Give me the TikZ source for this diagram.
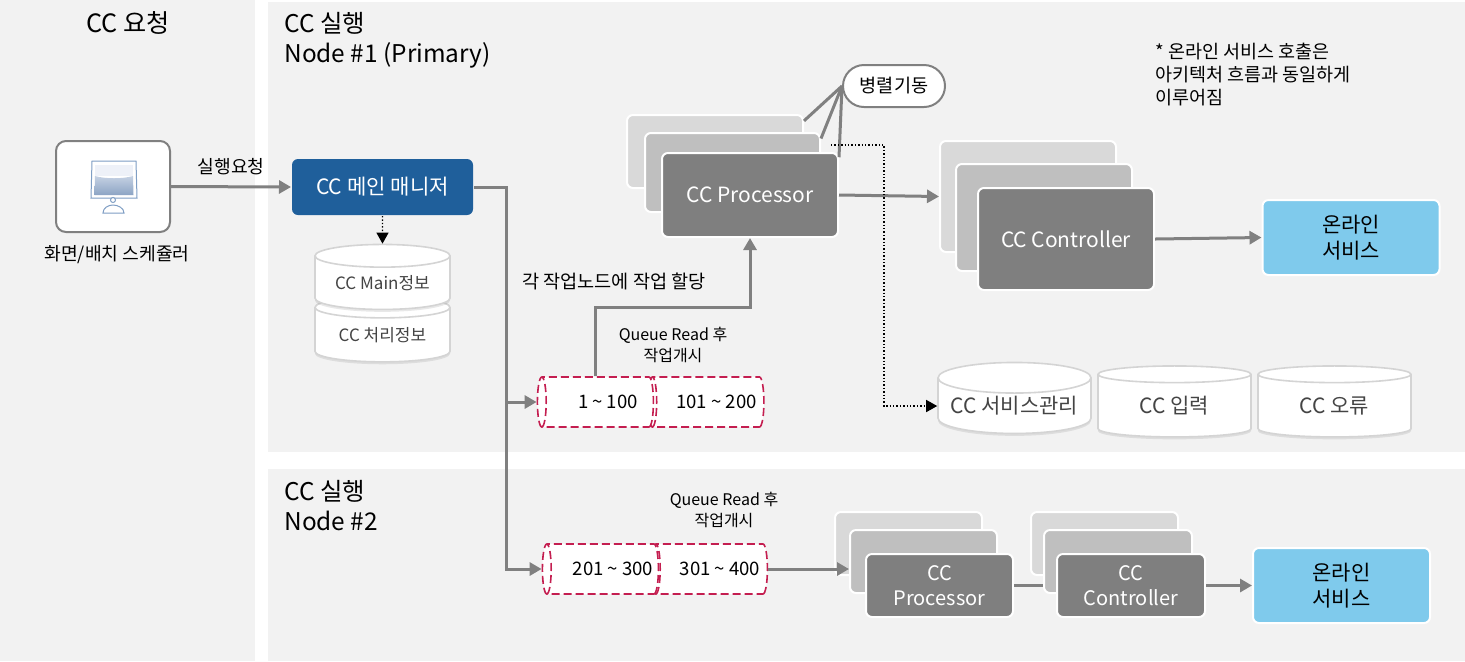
\documentclass[tikz,border=0pt]{standalone}
\usepackage{fontspec}
\setmainfont{Noto Sans CJK KR}
\usetikzlibrary{positioning,arrows.meta,shapes.geometric,shadows}

\definecolor{panelgray}{HTML}{F2F2F2}
\definecolor{connline}{HTML}{808080}
\definecolor{cardlight}{HTML}{D9D9D9}
\definecolor{cardmiddle}{HTML}{BFBFBF}
\definecolor{carddark}{HTML}{7F7F7F}
\definecolor{mainblue}{HTML}{1F5F9B}
\definecolor{skyblue}{HTML}{7FCAEC}
\definecolor{queuered}{HTML}{C41E50}
\definecolor{dbtext}{HTML}{444444}
\definecolor{monitorline}{HTML}{7F9EC4}
\definecolor{monitorpale}{HTML}{EEF1F8}
\definecolor{monitordeep}{HTML}{8CA4C4}
\definecolor{monitormid}{HTML}{C5D1E3}

\newcommand{\fsz}[2]{\fontsize{#1}{#2}\selectfont}

\tikzset{
	panel/.style={fill=panelgray, draw=none},
	card/.style={rectangle, rounded corners=3pt, draw=white, line width=1pt, inner sep=0pt, align=center},
	cardback/.style={card, fill=cardlight},
	cardmid/.style={card, fill=cardmiddle},
	cardfront/.style={card, fill=carddark, text=white},
	service/.style={card, fill=skyblue, minimum width=88.5pt, minimum height=37.5pt, font=\fsz{10.5}{13}},
	dbcyl/.style={cylinder, shape border rotate=90, aspect=.24, draw=black!17, line width=.8pt, fill=white,
		inner sep=0pt, minimum width=76.5pt, minimum height=35.5pt, text=dbtext, font=\fsz{10.5}{12},
		drop shadow={opacity=.18, shadow xshift=0pt, shadow yshift=-1.2pt}},
	smallcyl/.style={dbcyl, aspect=.24, minimum width=67.5pt, minimum height=32.5pt, font=\fsz{8.5}{10}},
	queuecyl/.style={cylinder, shape border rotate=180, aspect=.64, draw=queuered, line width=.8pt,
		dash pattern=on 4pt off 2pt, fill=white, inner sep=0pt, minimum width=25pt, minimum height=58pt,
		font=\fsz{9.3}{10}},
	conn/.style={draw=connline, line width=1.5pt, -{Triangle[length=6pt,width=6.5pt,fill=connline]}},
	connplain/.style={draw=connline, line width=1.5pt},
	dotconn/.style={draw=black, line width=.7pt, densely dotted, -{Triangle[length=5.5pt,width=6pt,fill=black]}},
	label/.style={inner sep=0pt, font=\fsz{9.1}{11}, align=center},
	title/.style={inner sep=0pt, anchor=west, align=left, font=\fsz{12.2}{15}}
}

\begin{document}
\begin{tikzpicture}[x=.5pt, y=-.5pt]
	\useasboundingbox (0,0) rectangle (1465,661);

	% panels
	\fill[panel] (0,0) rectangle (255,661);
	\fill[panel] (268,2) rectangle (1465,452);
	\fill[panel] (268,469) rectangle (1465,661);

	\node [title, anchor=center, font=\fsz{12.6}{15}] (tReq) at (128,23) {CC 요청};
	\node [title, anchor=north west] (tNode1) at (284,12) {CC 실행\\Node \#1 (Primary)};
	\node [title, anchor=north west] (tNode2) at (284,479.5) {CC 실행\\Node \#2};

	\node [label, anchor=north west, align=left, font=\fsz{9.25}{11.5}] (note) at (1155,43)
		{* 온라인 서비스 호출은\\아키텍처 흐름과 동일하게\\이루어짐};

	% scheduler
	\node [draw=connline, line width=1pt, fill=white, rounded corners=5pt, minimum width=57pt, minimum height=45.5pt,
		inner sep=0pt] (sched) at (113,186.5) {};
	\draw[draw=monitorline, line width=.5pt, fill=white] (92,161) -- (136,161) -- (137,198) -- (91,198) -- cycle;
	\fill[monitorpale] (95,165) -- (133,165) -- (133,176) -- (95,176) -- cycle;
	\shade[top color=monitormid, bottom color=monitordeep] (95,176) .. controls (105,179) and (123,179) .. (133,176) -- (133.5,195) -- (94.5,195) -- cycle;
	\draw[draw=monitorline, line width=.5pt, fill=white] (113,200) circle (2.5);
	\draw[draw=monitorline, line width=.5pt, fill=white] (103,213) .. controls (103,208) and (108,205) .. (113,205) .. controls (118,205) and (124,208) .. (124,213) -- cycle;
	\node [label, below=6pt of sched, xshift=2pt] (schedLabel) {화면/배치 스케쥴러};

	% main manager
	\node [card, draw=none, fill=mainblue, text=white, rounded corners=3pt, minimum width=90.5pt, minimum height=28pt, font=\fsz{10.55}{12}]
		(mainMgr) at (382.5,187) {CC 메인 매니저};

	% cylinders below manager
	\node [smallcyl] (dbExec) at (382.5,335) {CC 처리정보};
	\node [smallcyl] (dbMain) at (382.5,283) {CC Main정보};

	% CC Processor stack
	\node [cardback, minimum width=88pt, minimum height=36.5pt] (procBack) at (715,151.5) {};
	\node [cardmid, minimum width=87.5pt, minimum height=39.5pt] (procMid) at (732.5,172.5) {};
	\node [cardfront, minimum width=88pt, minimum height=42pt, font=\fsz{10.5}{13}] (procFront) at (750,195) {CC Processor};

	% CC Controller stack
	\node [cardback, minimum width=88pt, minimum height=55.5pt] (ctrlBack) at (1028,196.5) {};
	\node [cardmid, minimum width=88pt, minimum height=53.5pt] (ctrlMid) at (1044,217.5) {};
	\node [cardfront, minimum width=88pt, minimum height=51pt, font=\fsz{10.5}{13}] (ctrlFront) at (1066,239) {CC Controller};

	\node [service] (svc1) at (1351,237.5) {온라인\\서비스};

	% parallel start
	\node [draw=connline, line width=1pt, fill=white, rounded corners=10.5pt, minimum width=51pt, minimum height=21pt, inner sep=0pt,
		font=\fsz{9.3}{10}] (parallel) at (894,86) {병렬기동};
	\draw[connplain] (parallel.west) -- (procBack.19);
	\draw[connplain] (parallel.west) -- (procMid.21);
	\draw[connplain] (parallel.west) -- (procFront.23);

	% data stores
	\node [dbcyl] (dbSvc) at (1014.5,406) {CC 서비스관리};
	\node [dbcyl] (dbIn) at (1174.5,406) {CC 입력};
	\node [dbcyl] (dbErr) at (1334.5,406) {CC 오류};

	% queues, node 1
	\node [queuecyl] (q2) at (708.5,402) {\hspace*{8pt}101 \textasciitilde{} 200};
	\node [queuecyl] (q1) at (598,402) {\hspace*{10pt}1 \textasciitilde{} 100};
	\node [label, align=center, font=\fsz{8}{10.5}] (qText1) at (673,345) {Queue Read 후\\작업개시};
	\node [label, font=\fsz{9.3}{11}] (assign) at (614,281) {각 작업노드에 작업 할당};

	% queues, node 2
	\node [queuecyl] (q4) at (712,569) {\hspace*{8pt}301 \textasciitilde{} 400};
	\node [queuecyl] (q3) at (603,569) {\hspace*{10pt}201 \textasciitilde{} 300};
	\node [label, align=center, font=\fsz{8}{10.5}] (qText2) at (724,510) {Queue Read 후\\작업개시};

	% lower CC Processor stack
	\node [cardback, minimum width=73.5pt, minimum height=31.5pt] (lprocBack) at (908.5,543.5) {};
	\node [cardmid, minimum width=73.5pt, minimum height=31.5pt] (lprocMid) at (923.5,561.5) {};
	\node [cardfront, minimum width=73.5pt, minimum height=31.5pt, font=\fsz{10}{12.5}] (lprocFront) at (939.5,585.5) {CC\\Processor};

	% lower CC Controller stack
	\node [cardback, minimum width=73.5pt, minimum height=31.5pt] (lctrlBack) at (1104.5,543.5) {};
	\node [cardmid, minimum width=74pt, minimum height=31.5pt] (lctrlMid) at (1118,561.5) {};
	\node [cardfront, minimum width=74pt, minimum height=31.5pt, font=\fsz{10}{12.5}] (lctrlFront) at (1131,585.5) {CC\\Controller};

	\node [service] (svc2) at (1341.5,585.5) {온라인\\서비스};

	% connectors
	\draw[conn] (sched.east) -- (mainMgr.west);
	\node [label, above=5.5pt of sched.east, anchor=south, xshift=30pt] (reqLabel) {실행요청};
	\draw[dotconn] (mainMgr.south) -- (dbMain.north);
	\draw[conn] (mainMgr.east) -- ++(32,0) |- (q1.west);
	\draw[conn] (mainMgr.east) -- ++(32,0) |- (q3.west);
	\draw[conn] (q1.north -| 595,0) -- (595,307) -| (procFront.south);
	\draw[conn] (procFront.east) -- (ctrlBack.west);
	\draw[conn] (ctrlFront.east) -- (svc1.west);
	\coordinate (dotStart) at (831,145);
	\draw[dotconn] (dotStart) -- ++(53,0) |- (dbSvc.west);
	\draw[conn] (q4.east) -- (q4.east -| lprocMid.west);
	\draw[connplain] (lprocFront.east) -- (lprocFront.east -| lctrlMid.west);
	\draw[conn] (lctrlFront.east) -- (svc2.west);
\end{tikzpicture}
\end{document}
